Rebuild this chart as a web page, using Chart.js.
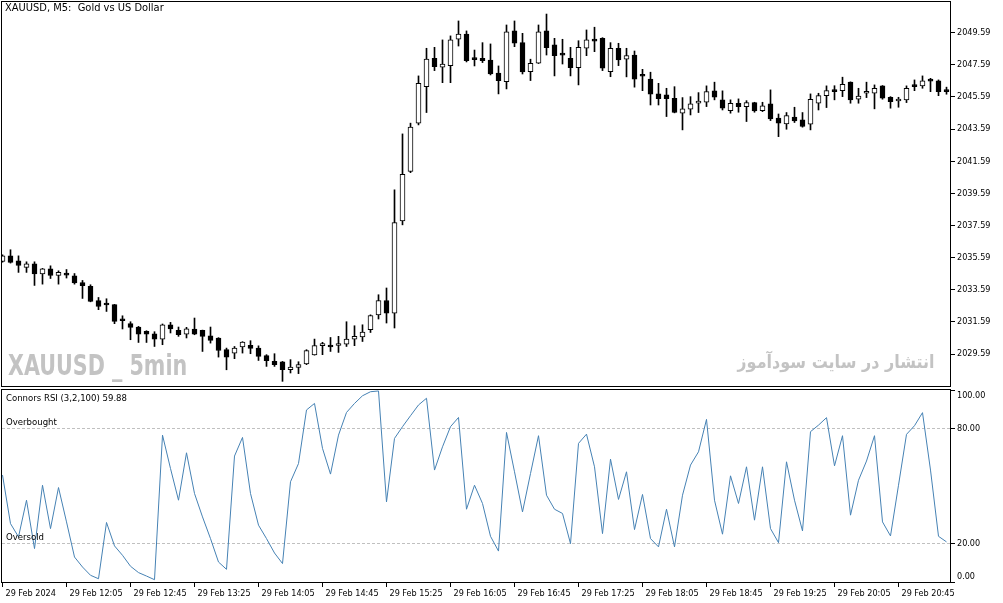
<!DOCTYPE html>
<html>
<head>
<meta charset="utf-8">
<script src="https://cdn.jsdelivr.net/npm/chart.js@4.4.1/dist/chart.umd.min.js"></script>
<style>
    body { margin: 0; background: #fff; width: 1003px; height: 603px; overflow: hidden; position: relative; }
    canvas { position: absolute; left: 0; }
    #priceChart { top: 0; }
    #rsiChart { top: 388px; }
    .txt { position: absolute; white-space: nowrap; font-family: "DejaVu Sans Condensed", "DejaVu Sans", sans-serif; font-size: 9.5px; color: #000; }
    .mark { position: absolute; white-space: nowrap; font-weight: bold; color: #c3c3c3; }
</style>
</head>
<body>
<canvas id="priceChart" width="1003" height="388"></canvas>
<canvas id="rsiChart" width="1003" height="215"></canvas>

<div class="txt" style="left:5px; top:1px; font-size:11px;">XAUUSD, M5:&nbsp; Gold vs US Dollar</div>
<div class="mark" style="left:8px; top:349px; font-family:'DejaVu Sans Condensed','DejaVu Sans',sans-serif; font-size:28px; transform:scaleX(0.82); transform-origin:left top;">XAUUSD _ 5min</div>
<div class="mark" dir="rtl" style="right:68px; top:351px; font-family:'DejaVu Sans',sans-serif; font-size:18px; transform:scaleX(0.89); transform-origin:right top;">انتشار در سایت سودآموز</div>
<div class="txt" style="left:6px; top:392px;">Connors RSI (3,2,100) 59.88</div>
<div class="txt" style="left:6px; top:416px;">Overbought</div>
<div class="txt" style="left:6px; top:531px;">Oversold</div>

<script>
// 5 minute candles, XAUUSD, 29 Feb 2024 from 11:25
const candleOpen = [
    2035.35, 2035.70, 2035.39, 2034.98, 2035.21, 2034.57, 2034.90, 2034.48, 2034.58, 2034.46,
    2034.04, 2033.80, 2032.91, 2032.66, 2032.66, 2031.68, 2031.48, 2031.27, 2031.00, 2030.85,
    2030.52, 2031.41, 2031.06, 2030.83, 2031.14, 2031.06, 2030.73, 2030.59, 2029.86, 2029.65,
    2030.03, 2030.13, 2029.96, 2029.49, 2029.13, 2029.11, 2028.61, 2028.76, 2028.97, 2029.53,
    2030.11, 2030.13, 2030.12, 2030.21, 2030.52, 2030.65, 2031.10, 2032.03, 2032.92, 2032.14,
    2037.88, 2040.95, 2043.96, 2046.23, 2048.00, 2047.44, 2047.54, 2049.18, 2049.51, 2048.00,
    2048.00, 2047.89, 2047.07, 2046.54, 2049.70, 2048.97, 2047.17, 2047.69, 2049.70, 2048.83,
    2048.21, 2048.00, 2047.41, 2048.62, 2049.14, 2049.24, 2047.17, 2048.62, 2047.94, 2048.20,
    2046.90, 2046.71, 2045.78, 2045.72, 2045.51, 2044.58, 2044.83, 2045.21, 2045.26, 2045.97,
    2045.41, 2044.74, 2045.20, 2044.99, 2045.24, 2044.74, 2045.16, 2044.27, 2043.91, 2044.33,
    2044.16, 2043.89, 2045.20, 2045.67, 2046.03, 2045.98, 2046.51, 2045.45, 2045.82, 2045.83,
    2046.28, 2045.57, 2045.34, 2045.41, 2046.34, 2046.28, 2046.59, 2046.59, 2045.93
];
const candleHigh = [
    2035.77, 2036.08, 2035.70, 2035.33, 2035.33, 2034.92, 2035.08, 2034.77, 2034.85, 2034.60,
    2034.17, 2033.90, 2033.11, 2033.03, 2032.68, 2031.97, 2031.60, 2031.31, 2031.04, 2030.98,
    2031.46, 2031.56, 2031.27, 2031.25, 2031.83, 2031.08, 2031.27, 2030.61, 2029.96, 2030.06,
    2030.36, 2030.42, 2030.10, 2029.55, 2029.61, 2029.13, 2029.24, 2029.11, 2029.86, 2030.52,
    2030.32, 2030.62, 2030.69, 2031.60, 2031.35, 2031.41, 2032.03, 2033.28, 2033.70, 2039.81,
    2043.29, 2043.96, 2046.90, 2048.62, 2048.68, 2049.14, 2049.39, 2050.32, 2049.70, 2048.51,
    2048.97, 2048.89, 2047.52, 2050.07, 2050.32, 2049.55, 2047.94, 2050.07, 2050.75, 2049.24,
    2049.18, 2048.68, 2049.09, 2049.76, 2049.93, 2049.28, 2048.97, 2048.93, 2048.62, 2048.45,
    2047.31, 2047.13, 2046.44, 2046.13, 2046.23, 2045.55, 2045.61, 2045.86, 2046.28, 2046.51,
    2045.97, 2045.41, 2045.47, 2045.36, 2045.26, 2045.26, 2046.03, 2044.53, 2044.62, 2044.95,
    2044.62, 2045.78, 2045.82, 2046.28, 2046.29, 2046.82, 2046.53, 2046.13, 2046.51, 2046.34,
    2046.30, 2045.61, 2045.57, 2046.28, 2046.65, 2046.90, 2046.75, 2046.65, 2046.20
];
const candleLow = [
    2035.30, 2035.25, 2034.67, 2034.67, 2033.86, 2033.94, 2034.29, 2033.94, 2034.32, 2033.94,
    2033.05, 2032.84, 2032.35, 2032.24, 2031.48, 2031.15, 2030.48, 2030.31, 2030.31, 2030.06,
    2030.17, 2030.90, 2030.69, 2030.59, 2030.79, 2029.75, 2030.27, 2029.40, 2028.61, 2029.30,
    2029.65, 2029.61, 2029.19, 2028.82, 2028.82, 2027.89, 2028.41, 2028.37, 2028.93, 2029.52,
    2029.55, 2029.75, 2029.69, 2030.06, 2030.11, 2030.37, 2030.93, 2031.77, 2031.52, 2031.21,
    2037.63, 2040.88, 2043.85, 2044.62, 2047.23, 2046.48, 2046.48, 2048.76, 2047.77, 2047.52,
    2047.73, 2046.96, 2045.78, 2046.09, 2048.72, 2047.02, 2046.61, 2047.67, 2048.20, 2046.90,
    2047.64, 2046.90, 2046.34, 2048.16, 2048.41, 2047.23, 2046.85, 2047.54, 2046.84, 2046.20,
    2045.98, 2045.09, 2045.09, 2044.37, 2044.60, 2043.54, 2044.47, 2044.62, 2044.99, 2045.41,
    2044.78, 2044.58, 2044.64, 2044.06, 2044.64, 2044.68, 2044.12, 2043.12, 2043.58, 2044.00,
    2043.71, 2043.54, 2044.78, 2044.93, 2045.41, 2045.61, 2045.20, 2045.20, 2045.55, 2044.85,
    2045.45, 2044.89, 2044.95, 2045.24, 2045.98, 2046.13, 2045.92, 2045.67, 2045.76
];
const candleClose = [
    2035.70, 2035.29, 2035.10, 2035.21, 2034.57, 2034.90, 2034.48, 2034.67, 2034.50, 2034.01,
    2033.84, 2032.86, 2032.55, 2032.64, 2031.62, 2031.66, 2031.25, 2030.83, 2030.83, 2030.52,
    2031.41, 2031.16, 2030.79, 2031.16, 2030.83, 2030.69, 2030.44, 2029.81, 2029.40, 2029.96,
    2030.34, 2029.94, 2029.44, 2029.17, 2028.93, 2028.61, 2028.78, 2028.93, 2029.80, 2030.11,
    2030.12, 2030.03, 2030.14, 2030.52, 2030.69, 2030.96, 2031.99, 2032.92, 2032.14, 2037.77,
    2040.78, 2043.71, 2046.44, 2047.94, 2047.48, 2047.63, 2049.14, 2049.51, 2047.85, 2047.91,
    2047.85, 2047.02, 2046.61, 2049.65, 2048.93, 2047.15, 2047.69, 2049.65, 2048.66, 2048.16,
    2048.19, 2047.41, 2048.68, 2049.14, 2049.06, 2047.38, 2048.62, 2047.89, 2048.17, 2046.69,
    2046.88, 2045.76, 2045.49, 2045.49, 2044.62, 2044.85, 2045.16, 2045.23, 2045.92, 2045.57,
    2044.89, 2045.20, 2044.99, 2045.24, 2044.72, 2045.03, 2044.22, 2043.96, 2044.43, 2044.10,
    2043.75, 2045.45, 2045.67, 2045.98, 2045.92, 2046.38, 2045.41, 2045.65, 2045.84, 2046.13,
    2045.51, 2045.30, 2045.35, 2046.13, 2046.23, 2046.59, 2046.58, 2045.92, 2045.92
];
// Connors RSI (3,2,100), one value per candle
const rsiValues = [
    55.7, 30.4, 23.5, 42.6, 17.4, 50.4, 27.8, 49.2, 31.3, 13.0,
    7.8, 3.5, 1.7, 31.0, 18.8, 13.9, 8.2, 4.9, 3.1, 1.2,
    76.5, 59.1, 42.6, 67.3, 46.1, 33.9, 22.6, 10.4, 6.6, 65.6,
    75.3, 46.1, 29.6, 22.6, 15.1, 9.6, 52.2, 61.7, 89.6, 93.0,
    69.6, 56.2, 76.5, 88.3, 93.0, 97.0, 99.1, 99.5, 41.7, 74.8,
    80.9, 86.6, 92.2, 95.7, 58.3, 70.4, 80.9, 85.7, 37.9, 50.4,
    40.9, 23.8, 16.1, 77.9, 57.4, 36.5, 56.5, 76.2, 45.2, 37.9,
    35.7, 20.0, 72.2, 77.0, 60.0, 25.2, 64.0, 43.0, 57.4, 27.3,
    45.6, 22.6, 18.3, 37.9, 18.3, 45.2, 60.9, 67.8, 84.7, 42.6,
    24.9, 55.3, 40.9, 60.0, 32.2, 60.0, 27.8, 20.5, 62.6, 42.6,
    26.6, 78.3, 81.7, 85.6, 60.5, 76.2, 34.8, 53.0, 63.0, 76.2,
    31.3, 24.0, 50.4, 76.9, 81.4, 88.2, 58.3, 23.8, 20.9
];
const priceTicks = [2029.59, 2031.59, 2033.59, 2035.59, 2037.59, 2039.59, 2041.59, 2043.59, 2045.59, 2047.59, 2049.59];
const rsiTicks = [0, 20, 80, 100];
const rsiLevels = [20, 80];
const timeTickIdx = [0, 8, 16, 24, 32, 40, 48, 56, 64, 72, 80, 88, 96, 104, 112];
const timeLabels = ['29 Feb 2024', '29 Feb 12:05', '29 Feb 12:45', '29 Feb 13:25', '29 Feb 14:05',
    '29 Feb 14:45', '29 Feb 15:25', '29 Feb 16:05', '29 Feb 16:45', '29 Feb 17:25',
    '29 Feb 18:05', '29 Feb 18:45', '29 Feb 19:25', '29 Feb 20:05', '29 Feb 20:45'];

const FONT = { family: '"DejaVu Sans Condensed", "DejaVu Sans", sans-serif', size: 9 };
const X_MIN = -0.0625, X_MAX = 118.4375;

// black frame round each plot area
const framePlugin = {
    id: 'frame',
    afterDraw(chart) {
        const a = chart.chartArea, c = chart.ctx;
        c.save();
        c.strokeStyle = '#000';
        c.lineWidth = 1;
        c.strokeRect(a.left - 0.5, a.top - 0.5, a.right - a.left + 1, a.bottom - a.top + 1);
        c.restore();
    }
};

// no label padding, the plot box is placed by layout.padding
function fitY(s) { s.width = 53; s.paddingTop = 0; s.paddingBottom = 0; }
function fitX(s) { s.height = 21; s.paddingLeft = 0; s.paddingRight = 0; }

// top and bottom RSI labels sit inside the panel, like the terminal does
function rsiLabel(v) {
    const t = v.toFixed(2);
    if (v === 100) return ['', t];
    if (v === 0) return [t, ''];
    return t;
}

const bodies = candleOpen.map((o, i) => ({ x: i, y: [o, candleClose[i]] }));
const wicks = candleHigh.map((h, i) => ({ x: i, y: [candleLow[i], h] }));
const bodyColors = candleOpen.map((o, i) => candleClose[i] >= o ? '#fff' : '#000');

new Chart(document.getElementById('priceChart'), {
    type: 'bar',
    data: {
        datasets: [
            {
                data: bodies,
                backgroundColor: bodyColors,
                borderColor: '#000',
                borderWidth: 1,
                borderSkipped: false,
                barThickness: 5,
                minBarLength: 2,
                grouped: false
            },
            {
                data: wicks,
                backgroundColor: '#000',
                borderWidth: 0,
                barThickness: 1,
                grouped: false
            }
        ]
    },
    plugins: [framePlugin],
    options: {
        responsive: false,
        animation: false,
        layout: { padding: { left: 2, top: 2, bottom: 2, right: 0 } },
        plugins: { legend: { display: false }, tooltip: { enabled: false } },
        scales: {
            x: { type: 'linear', min: X_MIN, max: X_MAX, offset: false, display: false },
            y: {
                position: 'right',
                min: 2027.60,
                max: 2051.50,
                afterBuildTicks: s => { s.ticks = priceTicks.map(v => ({ value: v })); },
                afterFit: fitY,
                grid: { drawOnChartArea: false, tickLength: 5, tickColor: '#000' },
                border: { display: false },
                ticks: { color: '#000', font: FONT, padding: 2, callback: v => v.toFixed(2) }
            }
        }
    }
});

new Chart(document.getElementById('rsiChart'), {
    type: 'line',
    data: {
        datasets: [{
            data: rsiValues.map((v, i) => ({ x: i, y: v })),
            borderColor: '#4682b4',
            borderWidth: 1,
            pointRadius: 0,
            tension: 0,
            fill: false
        }]
    },
    plugins: [framePlugin],
    options: {
        responsive: false,
        animation: false,
        layout: { padding: { left: 2, top: 2, bottom: 0, right: 0 } },
        plugins: { legend: { display: false }, tooltip: { enabled: false } },
        scales: {
            x: {
                type: 'linear',
                min: X_MIN,
                max: X_MAX,
                offset: false,
                afterBuildTicks: s => { s.ticks = timeTickIdx.map(v => ({ value: v })); },
                afterFit: fitX,
                grid: { drawOnChartArea: false, tickLength: 5, tickColor: '#000' },
                border: { display: false },
                ticks: {
                    color: '#000',
                    font: FONT,
                    autoSkip: false,
                    maxRotation: 0,
                    align: 'start',
                    labelOffset: 3,
                    padding: 1,
                    callback: v => timeLabels[timeTickIdx.indexOf(v)]
                }
            },
            y: {
                position: 'right',
                min: 0,
                max: 100,
                afterBuildTicks: s => { s.ticks = rsiTicks.map(v => ({ value: v })); },
                afterFit: fitY,
                grid: {
                    color: ctx => rsiLevels.includes(ctx.tick && ctx.tick.value) ? '#c0c0c0' : 'rgba(0,0,0,0)',
                    tickLength: 5,
                    tickColor: '#000',
                    tickBorderDash: []
                },
                border: { display: false, dash: [3, 2] },
                ticks: { color: '#000', font: FONT, padding: 2, callback: rsiLabel }
            }
        }
    }
});
</script>
</body>
</html>
